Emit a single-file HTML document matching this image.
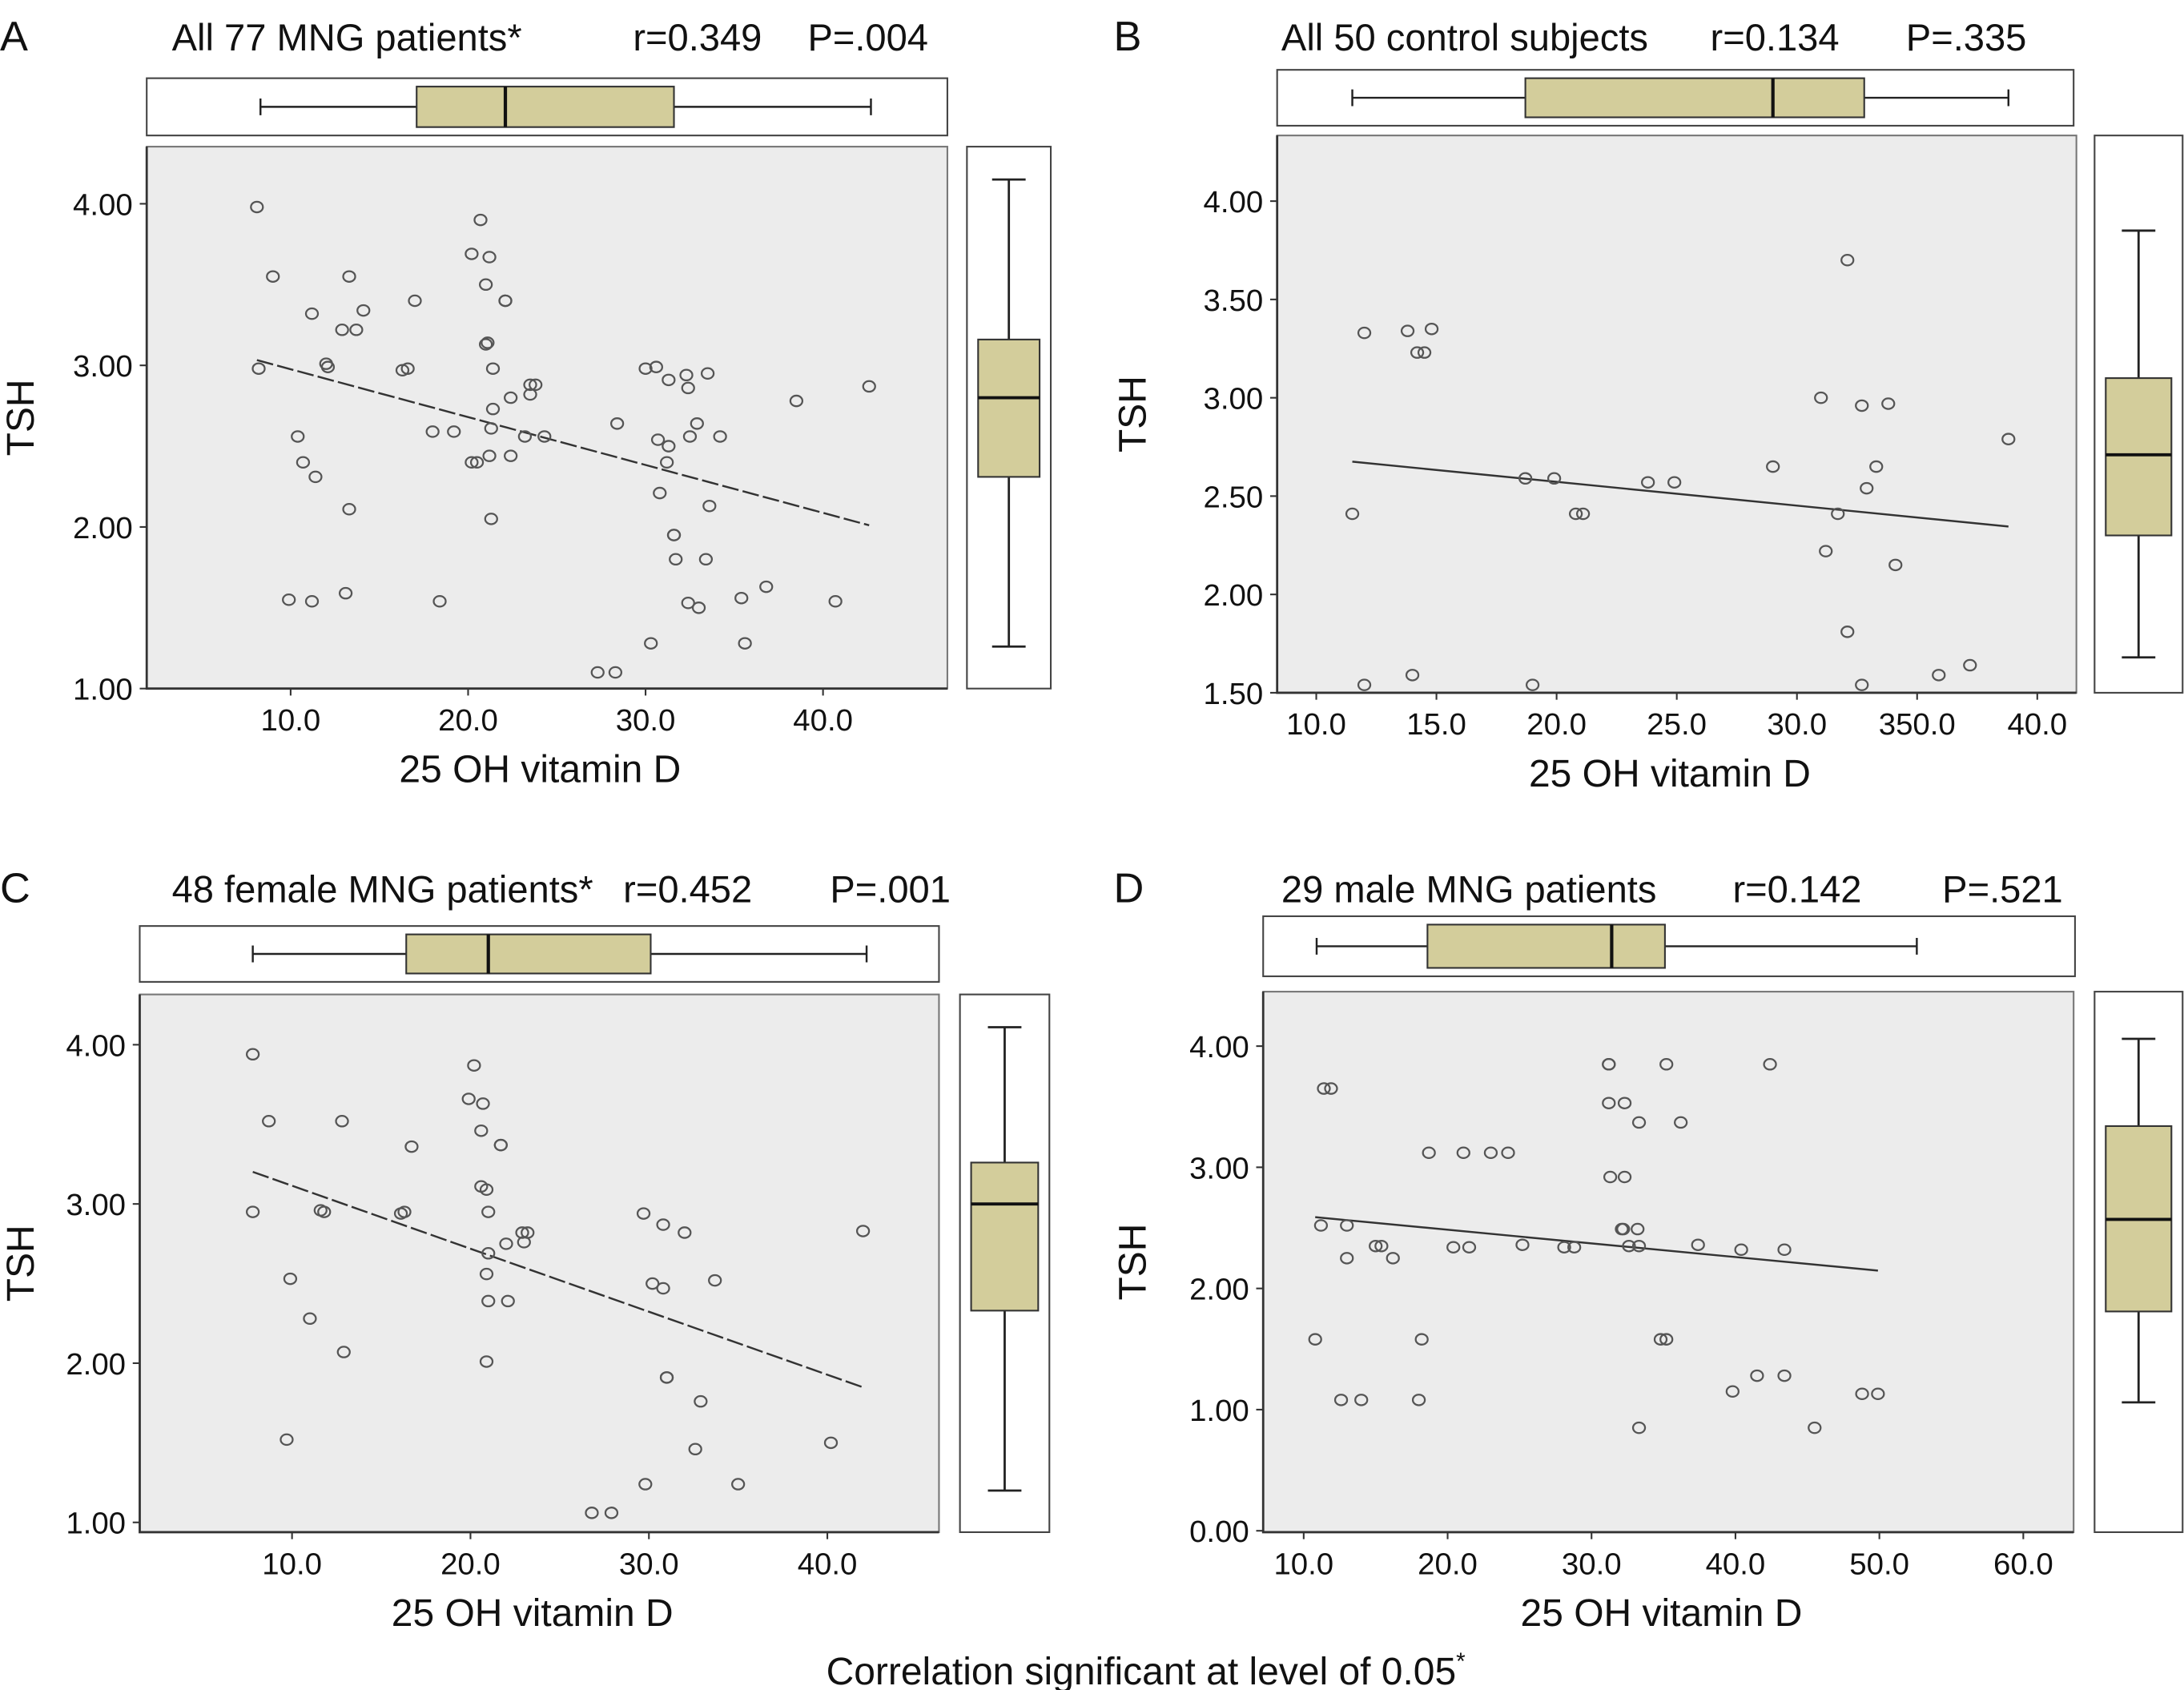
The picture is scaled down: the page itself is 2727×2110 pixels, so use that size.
<!DOCTYPE html>
<html><head><meta charset="utf-8"><title>TSH vs 25 OH vitamin D</title>
<style>
html,body{margin:0;padding:0;background:#fff;}
svg{display:block;font-family:"Liberation Sans",Arial,sans-serif;}
</style></head>
<body>
<svg id="chart" width="2727" height="2110" viewBox="0 0 1563 1210" preserveAspectRatio="none" xmlns="http://www.w3.org/2000/svg">
<rect x="0" y="0" width="1563" height="1210" fill="#fff"/>
<text x="820" y="1206" font-size="27.5" text-anchor="middle" fill="#111">Correlation significant at level of 0.05<tspan font-size="17" dy="-11">*</tspan></text>
</svg>
<script>
// ---- Panel A data ----
const aX = [8.1,9.0,8.2,11.2,10.4,10.7,11.4,12.0,12.1,12.9,13.7,13.3,14.1,13.3,9.9,11.2,13.1,17.0,16.3,16.6,18.0,19.2,18.4,20.7,20.2,21.2,21.0,22.1,22.1,21.1,21.0,21.4,21.4,21.3,20.2,20.5,21.2,22.4,23.2,22.4,23.5,23.8,23.5,24.3,21.3,28.4,30.0,30.6,30.7,31.3,31.2,30.8,31.3,32.3,32.4,33.5,32.9,32.5,34.2,31.6,31.6,31.7,33.4,33.6,36.8,35.4,35.6,30.3,27.3,28.3,32.4,33.0,38.5,42.6,40.7];
const aY = [3.98,3.55,2.98,3.32,2.56,2.40,2.31,3.01,2.99,3.22,3.22,3.55,3.34,2.11,1.55,1.54,1.59,3.40,2.97,2.98,2.59,2.59,1.54,3.90,3.69,3.67,3.50,3.40,3.40,3.14,3.13,2.98,2.73,2.61,2.40,2.40,2.44,2.44,2.56,2.80,2.88,2.88,2.82,2.56,2.05,2.64,2.98,2.99,2.54,2.50,2.40,2.21,2.91,2.94,2.86,2.95,2.64,2.56,2.56,1.95,1.95,1.80,1.80,2.13,1.63,1.56,1.28,1.28,1.10,1.10,1.53,1.50,2.78,2.87,1.54];
const aBoxX = [8.3,17.1,22.1,31.6,42.7];
const aBoxY = [1.26,2.31,2.80,3.16,4.15];
const aXTicks = [10,20,30,40];
const aYTicks = [1,2,3,4];
// ---- Panel B data ----
const bX = [12.0,13.8,14.2,14.5,14.8,11.5,12.0,14.0,19.0,18.7,19.9,20.8,21.1,23.8,24.9,29.0,32.1,31.0,32.7,33.8,33.3,32.9,31.7,31.2,34.1,32.1,32.7,35.9,37.2,38.8];
const bY = [3.33,3.34,3.23,3.23,3.35,2.41,1.54,1.59,1.54,2.59,2.59,2.41,2.41,2.57,2.57,2.65,3.70,3.00,2.96,2.97,2.65,2.54,2.41,2.22,2.15,1.81,1.54,1.59,1.64,2.79];
const bBoxX = [11.5,18.7,29.0,32.8,38.8];
const bBoxY = [1.68,2.30,2.71,3.10,3.85];
const bXTicks = [10,15,20,25,30,35,40];
const bXTickLabels = ["10.0","15.0","20.0","25.0","30.0","350.0","40.0"];
const bYTicks = [1.5,2,2.5,3,3.5,4];
// ---- Panel C data ----
const cX = [7.8,8.7,7.8,11.6,11.8,12.8,9.9,11.0,12.9,9.7,16.1,16.3,16.7,20.2,19.9,20.7,20.6,21.7,21.7,20.6,20.9,21.0,21.0,20.9,21.0,22.1,22.0,22.9,23.2,23.0,20.9,29.7,30.8,32.0,30.2,30.8,33.7,31.0,31.0,32.9,32.6,35.0,29.8,26.8,27.9,40.2,42.0];
const cY = [3.94,3.52,2.95,2.96,2.95,3.52,2.53,2.28,2.07,1.52,2.94,2.95,3.36,3.87,3.66,3.63,3.46,3.37,3.37,3.11,3.09,2.95,2.69,2.56,2.39,2.39,2.75,2.82,2.82,2.76,2.01,2.94,2.87,2.82,2.50,2.47,2.52,1.91,1.91,1.76,1.46,1.24,1.24,1.06,1.06,1.50,2.83];
const cBoxX = [7.8,16.4,21.0,30.1,42.2];
const cBoxY = [1.20,2.33,3.00,3.26,4.11];
const cXTicks = [10,20,30,40];
const cYTicks = [1,2,3,4];
// ---- Panel D data ----
const dX = [11.2,11.4,11.9,13.0,13.0,15.0,15.4,16.2,12.6,14.0,10.8,18.0,18.2,18.7,21.1,23.0,24.2,20.4,21.5,25.2,28.1,28.8,31.2,31.2,31.2,32.3,31.3,32.3,32.2,32.1,33.2,33.3,32.6,33.3,35.2,36.2,37.4,40.4,43.4,42.4,34.8,35.2,33.3,39.8,41.5,43.4,45.5,48.8,49.9];
const dY = [2.52,3.65,3.65,2.52,2.25,2.35,2.35,2.25,1.08,1.08,1.58,1.08,1.58,3.12,3.12,3.12,3.12,2.34,2.34,2.36,2.34,2.34,3.85,3.85,3.53,3.53,2.92,2.92,2.49,2.49,2.49,3.37,2.35,2.35,3.85,3.37,2.36,2.32,2.32,3.85,1.58,1.58,0.85,1.15,1.28,1.28,0.85,1.13,1.13];
const dBoxX = [10.9,18.6,31.4,35.1,52.6];
const dBoxY = [1.06,1.81,2.57,3.34,4.06];
const dXTicks = [10,20,30,40,50,60];
const dYTicks = [0,1,2,3,4];

const NS = "http://www.w3.org/2000/svg";
const svg = document.getElementById("chart");
function mk(tag, attrs, parent){
  const e = document.createElementNS(NS, tag);
  for (const k in attrs) e.setAttribute(k, attrs[k]);
  (parent||svg).appendChild(e);
  return e;
}
const BOXFILL = "#d3cd9b";

function panel(cfg){
  const g = mk("g", {});
  
  
  const p = cfg.plot;
  const xs = v => cfg.xpx0 + (v - cfg.xv0) * cfg.xk;
  const ys = v => cfg.ypx0 - (v - cfg.yv0) * cfg.yk;
  const L = mk("text", {x: cfg.letterX, y: cfg.titleY, "font-size": 30, fill: "#111"}, g);
  L.textContent = cfg.id.toUpperCase();
  
  
  cfg.title.forEach((t, i) => {
    const T = mk("text", {x: t[1], y: cfg.titleY, "font-size": 27, fill: "#111"}, g);
    T.textContent = t[0];
    
    
  });
  const bg = mk("rect", {x: p.x, y: p.y, width: p.w, height: p.h, fill: "#ececec", stroke: "#777", "stroke-width": 1.2}, g);
  
  
  const ax = mk("path", {d: `M${p.x} ${p.y}V${p.y+p.h}H${p.x+p.w}`, fill: "none", stroke: "#333", "stroke-width": 1.6}, g);
  
  
  cfg.yTicks.forEach(v => {
    const y = ys(v);
    const tk = mk("line", {x1: p.x-5, x2: p.x, y1: y, y2: y, stroke: "#333", "stroke-width": 1.2}, g);
    
    
    const tl = mk("text", {x: p.x-10, y: y+8, "font-size": 22, "text-anchor": "end", fill: "#111"}, g);
    tl.textContent = v.toFixed(2);
    
    
  });
  cfg.xTicks.forEach((v, i) => {
    const x = xs(v);
    const tk = mk("line", {x1: x, x2: x, y1: p.y+p.h, y2: p.y+p.h+5, stroke: "#333", "stroke-width": 1.2}, g);
    
    
    const tl = mk("text", {x: x, y: p.y+p.h+30, "font-size": 22, "text-anchor": "middle", fill: "#111"}, g);
    tl.textContent = cfg.xLabels ? cfg.xLabels[i] : v.toFixed(1);
    
    
  });
  const xt = mk("text", {x: p.x + p.w/2 - 5, y: p.y+p.h+67, "font-size": 27.5, "text-anchor": "middle", fill: "#111"}, g);
  xt.textContent = "25 OH vitamin D";
  
  
  const cy = p.y + p.h/2;
  const yt = mk("text", {x: cfg.tshX, y: cy, "font-size": 27.5, "text-anchor": "middle", fill: "#111", transform: `rotate(-90 ${cfg.tshX} ${cy})`}, g);
  yt.textContent = "TSH";
  
  
  const X = cfg.xd, Y = cfg.yd, n = X.length;
  let mx = 0, my = 0; for (let i=0;i<n;i++){mx+=X[i];my+=Y[i];} mx/=n; my/=n;
  let sxy=0, sxx=0; for (let i=0;i<n;i++){sxy+=(X[i]-mx)*(Y[i]-my); sxx+=(X[i]-mx)**2;}
  const b = sxy/sxx, a = my - b*mx;
  const x0 = Math.min(...X), x1 = Math.max(...X);
  const rl = mk("line", {x1: xs(x0), y1: ys(a+b*x0), x2: xs(x1), y2: ys(a+b*x1), stroke: "#333", "stroke-width": 1.4}, g);
  if (cfg.dashed) rl.setAttribute("stroke-dasharray", "12 3");
  
  
  for (let i=0;i<n;i++){
    const c = mk("ellipse", {cx: xs(X[i]), cy: ys(Y[i]), rx: 4.3, ry: 3.8, fill: "none", stroke: "#555", "stroke-width": 1.3}, g);
    
    
  }
  const tb = cfg.topBox, bx = cfg.boxX, tm = tb.y + tb.h/2;
  const tf = mk("rect", {x: tb.x, y: tb.y, width: tb.w, height: tb.h, fill: "#fff", stroke: "#444", "stroke-width": 1.2}, g);
  
  
  const tw = mk("path", {d: `M${xs(bx[0])} ${tm}H${xs(bx[4])}M${xs(bx[0])} ${tm-6}V${tm+6}M${xs(bx[4])} ${tm-6}V${tm+6}`, stroke: "#222", "stroke-width": 1.4, fill: "none"}, g);
  
  
  const tbx = mk("rect", {x: xs(bx[1]), y: tb.y+6, width: xs(bx[3])-xs(bx[1]), height: tb.h-12, fill: BOXFILL, stroke: "#333", "stroke-width": 1.2}, g);
  
  
  const tmd = mk("line", {x1: xs(bx[2]), x2: xs(bx[2]), y1: tb.y+6, y2: tb.y+tb.h-6, stroke: "#111", "stroke-width": 2.4}, g);
  
  
  const rb = cfg.rightBox, by = cfg.boxY, rm = rb.x + rb.w/2;
  const rf = mk("rect", {x: rb.x, y: rb.y, width: rb.w, height: rb.h, fill: "#fff", stroke: "#444", "stroke-width": 1.2}, g);
  
  
  const rw = mk("path", {d: `M${rm} ${ys(by[0])}V${ys(by[4])}M${rm-12} ${ys(by[0])}H${rm+12}M${rm-12} ${ys(by[4])}H${rm+12}`, stroke: "#222", "stroke-width": 1.6, fill: "none"}, g);
  
  
  const rbx = mk("rect", {x: rb.x+8, y: ys(by[3]), width: rb.w-16, height: ys(by[1])-ys(by[3]), fill: BOXFILL, stroke: "#333", "stroke-width": 1.2}, g);
  
  
  const rmd = mk("line", {x1: rb.x+8, x2: rb.x+rb.w-8, y1: ys(by[2]), y2: ys(by[2]), stroke: "#111", "stroke-width": 2.2}, g);
  
  
}

panel({id:"a", letterX:0, titleY:36, title:[["All 77 MNG patients*",123],["r=0.349",453],["P=.004",578]],
  plot:{x:105,y:105,w:573,h:388}, xpx0:208, xv0:10, xk:12.7, ypx0:493, yv0:1, yk:115.7,
  topBox:{x:105,y:56,w:573,h:41}, rightBox:{x:692,y:105,w:60,h:388}, tshX:24,
  xd:aX, yd:aY, boxX:aBoxX, boxY:aBoxY, xTicks:aXTicks, yTicks:aYTicks, dashed:true});
panel({id:"b", letterX:797, titleY:36, title:[["All 50 control subjects",917],["r=0.134",1224],["P=.335",1364]],
  plot:{x:914,y:97,w:572,h:399}, xpx0:942, xv0:10, xk:17.2, ypx0:496, yv0:1.5, yk:140.8,
  topBox:{x:914,y:50,w:570,h:40}, rightBox:{x:1499,y:97,w:63,h:399}, tshX:820,
  xd:bX, yd:bY, boxX:bBoxX, boxY:bBoxY, xTicks:bXTicks, xLabels:bXTickLabels, yTicks:bYTicks, dashed:false});
panel({id:"c", letterX:0, titleY:646, title:[["48 female MNG patients*",123],["r=0.452",446],["P=.001",594]],
  plot:{x:100,y:712,w:572,h:385}, xpx0:209, xv0:10, xk:12.77, ypx0:1090, yv0:1, yk:114,
  topBox:{x:100,y:663,w:572,h:40}, rightBox:{x:687,y:712,w:64,h:385}, tshX:24,
  xd:cX, yd:cY, boxX:cBoxX, boxY:cBoxY, xTicks:cXTicks, yTicks:cYTicks, dashed:true});
panel({id:"d", letterX:797, titleY:646, title:[["29 male MNG patients",917],["r=0.142",1240],["P=.521",1390]],
  plot:{x:904,y:710,w:580,h:387}, xpx0:933, xv0:10, xk:10.3, ypx0:1096, yv0:0, yk:86.75,
  topBox:{x:904,y:656,w:581,h:43}, rightBox:{x:1499,y:710,w:63,h:387}, tshX:820,
  xd:dX, yd:dY, boxX:dBoxX, boxY:dBoxY, xTicks:dXTicks, yTicks:dYTicks, dashed:false});
</script>
</body></html>
